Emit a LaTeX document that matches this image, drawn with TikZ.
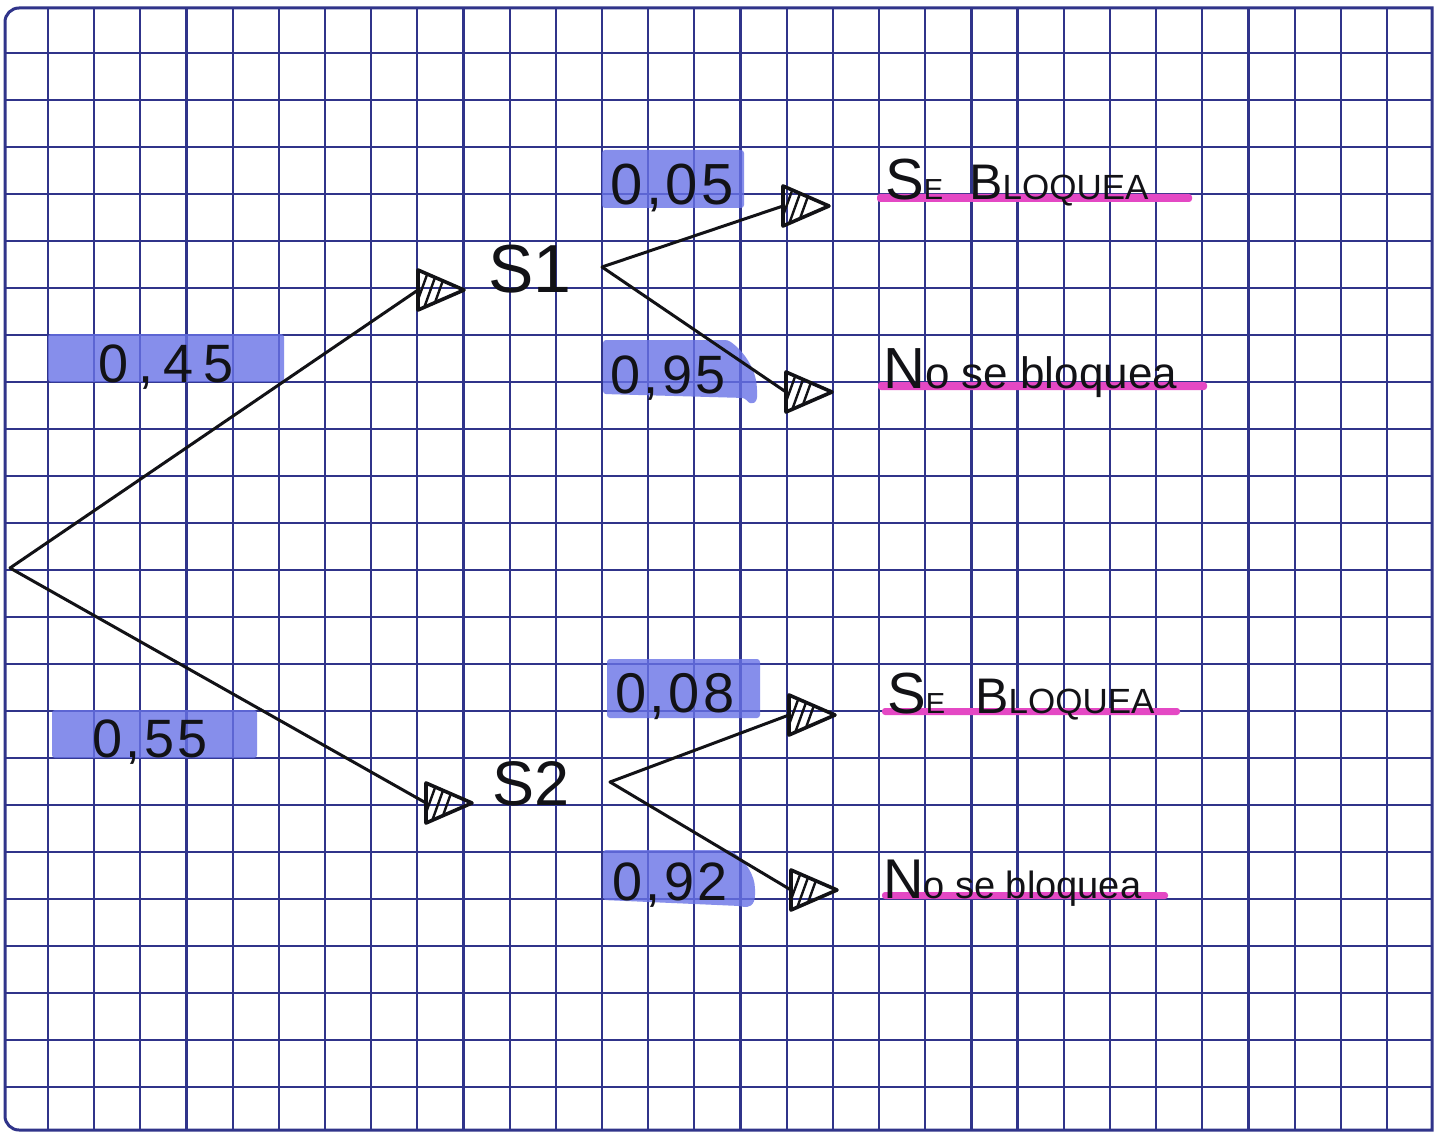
\documentclass[tikz,border=0pt]{standalone}
\usepackage{fontspec}
\setmainfont{Liberation Sans}
\newfontfamily\numfont[LetterSpace=6]{Liberation Sans}
\newfontfamily\widenumfont[LetterSpace=18]{Liberation Sans}
\definecolor{gridc}{RGB}{48,52,138}
\definecolor{ink}{RGB}{18,18,22}
\definecolor{hlblue}{RGB}{104,114,230}
\definecolor{pinkc}{RGB}{228,72,196}
\begin{document}
\begin{tikzpicture}[x=1pt,y=-1pt,
  gridline/.style={draw=gridc,line width=2.2pt},
  inkline/.style={draw=ink,line width=3pt,line cap=round},
  hl/.style={fill=hlblue,fill opacity=0.8,rounded corners=3pt},
  pinkbar/.style={fill=pinkc,rounded corners=3pt},
  num/.style={text=ink,inner sep=0pt,anchor=base},
  lbl/.style={text=ink,inner sep=0pt,anchor=base west},
  stxt/.style={text=ink,inner sep=0pt,anchor=base west},
  htri/.pic={
    \begin{scope}
      \clip (0,-20) -- (46,0) -- (0,20) -- cycle;
      \foreach \s in {-3,6,15} \draw[ink,line width=2.4pt] (\s,18) -- (\s+13,-18);
    \end{scope}
    \draw[ink,line width=3.6pt,line join=round] (0,-20) -- (46,0) -- (0,20) -- cycle;
  }
]
\useasboundingbox (0,0) rectangle (1449,1134);
\fill[white] (0,0) rectangle (1449,1134);

% grid paper
\foreach \k in {0,...,29} \draw[gridline] ({48+46.17*\k},8) -- ({48+46.17*\k},1130);
\foreach \j in {0,...,22} \draw[gridline] (5,{53+47*\j}) -- (1432,{53+47*\j});
\draw[draw=gridc,line width=3pt] (1432,8) -- (19,8) arc[start angle=270,end angle=180,radius=14]
  -- (5,1116) arc[start angle=180,end angle=90,radius=14] -- (1432,1130) -- cycle;

% blue highlights
\fill[hl] (48,334) rectangle (284,382);
\fill[hl] (52,710) rectangle (257,758);
\fill[hl] (602,150) rectangle (744,208);
\fill[hl] (603,340) -- (728,340) .. controls (745,352) and (756,370) .. (757,390)
  .. controls (758,404) and (751,406) .. (745,398) -- (603,394) -- cycle;
\fill[hl] (607,659) rectangle (760,718);
\fill[hl] (603,850) -- (730,850) .. controls (745,860) and (755,875) .. (755,892)
  .. controls (755,906) and (748,908) .. (740,906) -- (603,900) -- cycle;

% pink underlines
\fill[pinkbar] (877,194) rectangle (1192,202);
\fill[pinkbar] (878,382) rectangle (1207,390);
\fill[pinkbar] (882,708) rectangle (1180,715);
\fill[pinkbar] (882,892) rectangle (1168,899);

% anchor points
\coordinate (root) at (10,568);
\coordinate (b1) at (418,290);
\coordinate (b4) at (426,803);
\coordinate (o1) at (602,267);
\coordinate (o2) at (610,782);
\coordinate (b2) at (783,206);
\coordinate (b3) at (786,392);
\coordinate (b5) at (789,715);
\coordinate (b6) at (791,890);

% connectors
\draw[inkline] (root) -- (b1);
\draw[inkline] (root) -- (b4);
\draw[inkline] (o1) -- (b2);
\draw[inkline] (o1) -- (b3);
\draw[inkline] (o2) -- (b5);
\draw[inkline] (o2) -- (b6);

% arrow triangles
\pic at (b1) {htri};
\pic at (b4) {htri};
\pic at (b2) {htri};
\pic at (b3) {htri};
\pic at (b5) {htri};
\pic at (b6) {htri};

% state labels
\node[stxt,font=\fontsize{68}{72}\selectfont] (s1) at (488,293) {S1};
\node[stxt,font=\fontsize{63}{66}\selectfont] (s2) at (492,805) {S2};

% probabilities
\node[num,font=\widenumfont\fontsize{54}{58}\selectfont] (p45) at (166,382) {0,45};
\node[num,font=\numfont\fontsize{54}{58}\selectfont] (p55) at (150,757) {0,55};
\node[num,font=\numfont\fontsize{58}{62}\selectfont] (p05) at (672,205) {0,05};
\node[num,font=\numfont\fontsize{54}{58}\selectfont] (p95) at (668,393) {0,95};
\node[num,font=\numfont\fontsize{56}{60}\selectfont] (p08) at (675,712) {0,08};
\node[num,font=\numfont\fontsize{54}{58}\selectfont] (p92) at (670,900) {0,92};

% outcomes
\node[lbl] (r1) at (885,200) {\fontsize{58}{60}\selectfont S\fontsize{29}{30}\selectfont E\hspace{26pt}\fontsize{50}{52}\selectfont B\fontsize{35}{36}\selectfont LOQUEA};
\node[lbl] (r2) at (883,388) {\fontsize{58}{60}\selectfont N\fontsize{44}{46}\selectfont o se bloquea};
\node[lbl] (r3) at (887,713) {\fontsize{58}{60}\selectfont S\fontsize{29}{30}\selectfont E\hspace{30pt}\fontsize{50}{52}\selectfont B\fontsize{35}{36}\selectfont LOQUEA};
\node[lbl] (r4) at (883,898) {\fontsize{56}{58}\selectfont N\fontsize{38}{40}\selectfont o se bloquea};
\end{tikzpicture}
\end{document}
